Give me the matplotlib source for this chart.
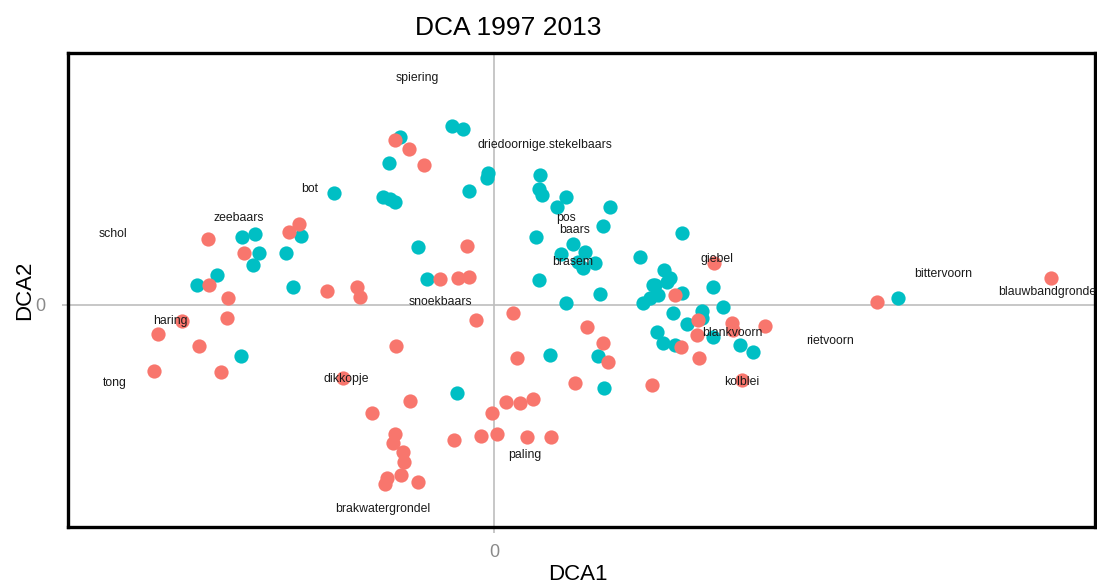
import matplotlib.pyplot as plt
import numpy as np

plt.rcParams['font.family'] = ['Liberation Sans', 'DejaVu Sans']

# site scores, two survey periods
red_x = [-0.99, -0.85, -0.70, -2.86, -2.05, -1.95, -2.50, -2.85, -1.67, -1.37,
         -1.34, -0.54, -0.36, -0.25, -2.66, -2.67, -3.12, -3.36, -2.95, -3.40,
         -2.73, -1.51, -0.98, -0.84, -1.22, -0.99, -1.01, -0.91, -0.90, -0.93,
         -1.07, -1.09, -0.76, -0.40, -0.27, 0.19, -0.18, 0.93, 1.09, 0.23,
         1.14, 0.81, 1.58, 0.12, 0.26, 0.39, -0.02, -0.13, 0.03, 0.33,
         0.57, 1.81, 2.04, 2.38, 2.39, 2.71, 2.03, 1.87, 2.05, 2.48,
         2.20, 3.83, 5.57]
red_y = [1.65, 1.56, 1.40, 0.66, 0.73, 0.81, 0.52, 0.20, 0.14, 0.18,
         0.08, 0.26, 0.27, 0.28, 0.07, -0.13, -0.16, -0.29, -0.41, -0.66,
         -0.67, -0.73, -0.41, -0.96, -1.08, -1.29, -1.38, -1.47, -1.57, -1.70,
         -1.73, -1.79, -1.77, -1.35, 0.59, -0.08, -0.15, -0.22, -0.38, -0.53,
         -0.57, -0.78, -0.80, -0.97, -0.98, -0.94, -1.08, -1.31, -1.29, -1.32,
         -1.32, 0.10, -0.15, -0.18, -0.25, -0.21, -0.30, -0.42, -0.53, -0.75,
         0.42, 0.03, 0.27]

teal_x = [-0.94, -1.05, -1.60, -1.11, -1.04, -0.99, -0.42, -0.31, -2.52, -2.39,
          -1.93, -2.35, -2.41, -2.08, -0.76, -2.77, -2.97, -2.01, -0.67, -2.53,
          -0.37, 0.72, 1.06, 0.56, 1.04, 1.10, 1.59, 1.73, 1.49, 1.56,
          1.64, 1.88, 2.19, 2.29, 2.08, 2.08, 1.79, 1.93, 1.63, 2.19,
          1.69, 1.81, 2.46, 2.59, -0.06, -0.07, -0.25, 0.46, 0.45, 0.48,
          0.72, 0.63, 1.16, 1.09, 0.42, 0.79, 0.91, 0.67, 0.84, 1.01,
          0.89, 1.46, 1.88, 1.70, 1.76, 1.61, 0.45, 4.04]
teal_y = [1.68, 1.42, 1.12, 1.08, 1.06, 1.03, 1.79, 1.76, 0.68, 0.71,
          0.69, 0.52, 0.40, 0.52, 0.58, 0.30, 0.20, 0.18, 0.26, -0.51,
          -0.88, 0.02, 0.11, -0.50, -0.51, -0.83, 0.20, 0.23, 0.02, 0.07,
          0.10, 0.12, 0.18, -0.02, -0.06, -0.13, -0.08, -0.19, -0.27, -0.32,
          -0.38, -0.40, -0.40, -0.47, 1.32, 1.27, 1.14, 1.30, 1.16, 1.10,
          1.08, 0.98, 0.98, 0.79, 0.68, 0.61, 0.53, 0.51, 0.43, 0.42,
          0.37, 0.48, 0.72, 0.35, 0.27, 0.20, 0.25, 0.07]

# species scores
species = ["spiering", "driedoornige.stekelbaars", "bot", "zeebaars", "schol",
           "pos", "baars", "brasem", "giebel", "bittervoorn", "blauwbandgrondel",
           "snoekbaars", "haring", "blankvoorn", "rietvoorn", "tong", "dikkopje",
           "kolblei", "paling", "brakwatergrondel"]
spec_x = [-0.77, 0.51, -1.84, -2.55, -3.81, 0.72, 0.81, 0.79, 2.23, 4.49, 5.55,
          -0.54, -3.24, 2.38, 3.36, -3.79, -1.48, 2.48, 0.31, -1.11]
spec_y = [2.27, 1.60, 1.16, 0.87, 0.71, 0.87, 0.75, 0.43, 0.46, 0.31, 0.13,
          0.03, -0.16, -0.28, -0.36, -0.78, -0.74, -0.77, -1.50, -2.04]

fig = plt.figure(figsize=(10.97, 5.86), dpi=100)
ax = fig.add_axes([0.062, 0.1007, 0.936, 0.8089])

ax.axhline(0, color="#bebebe", lw=1.2, zorder=1)
ax.axvline(0, color="#bebebe", lw=1.2, zorder=1)

ax.scatter(teal_x, teal_y, s=105, color="#00BFC4", linewidths=0, zorder=2)
ax.scatter(red_x, red_y, s=105, color="#F8766D", linewidths=0, zorder=3)

# species names, clipped at the panel edge
for name, x, y in zip(species, spec_x, spec_y):
    ax.text(x, y, name, ha="center", va="center", fontsize=8.8,
            color="#1a1a1a", zorder=4, clip_on=True)

ax.set_xlim(-4.26, 6.01)
ax.set_ylim(-2.22, 2.52)
ax.set_xticks([0])
ax.set_yticks([0])
ax.tick_params(axis="both", direction="out", length=4, width=1.2,
               color="#bebebe", labelcolor="#8a8a8a", labelsize=13)
ax.tick_params(axis="x", pad=8)
ax.tick_params(axis="y", pad=12)

for sp in ax.spines.values():
    sp.set_linewidth(2.4)
    sp.set_color("black")

fig.text(508 / 1097, 0.952, "DCA 1997 2013", ha="center", va="center", fontsize=19)
fig.text(578 / 1097, 0.019, "DCA1", ha="center", va="center", fontsize=16)
fig.text(25 / 1097, 1 - 290 / 586, "DCA2", ha="center", va="center",
         fontsize=16, rotation=90)

plt.savefig("out.png", dpi=100)
